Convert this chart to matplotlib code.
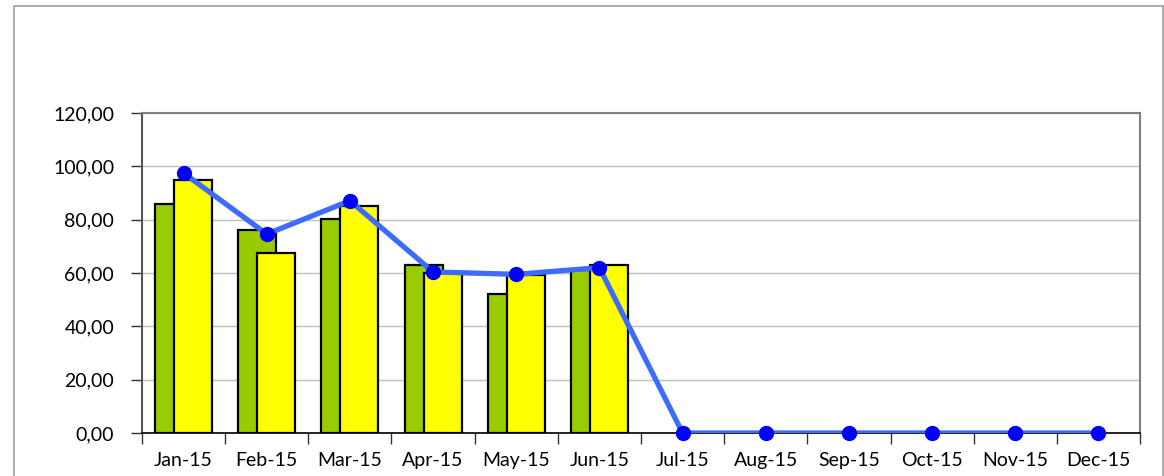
import numpy as np
import matplotlib.pyplot as plt
from matplotlib.patches import Rectangle
from matplotlib.ticker import FuncFormatter, MultipleLocator

months = ["Jan-15", "Feb-15", "Mar-15", "Apr-15", "May-15", "Jun-15",
          "Jul-15", "Aug-15", "Sep-15", "Oct-15", "Nov-15", "Dec-15"]
green_vals = [86.0, 76.0, 80.3, 63.0, 52.0, 61.0,
              np.nan, np.nan, np.nan, np.nan, np.nan, np.nan]
yellow_vals = [95.0, 67.5, 85.2, 60.0, 59.3, 63.0,
               np.nan, np.nan, np.nan, np.nan, np.nan, np.nan]
line_vals = [97.5, 74.6, 87.1, 60.4, 59.5, 62.0, 0, 0, 0, 0, 0, 0]

plt.rcParams["font.family"] = ["Lato", "DejaVu Sans"]

fig = plt.figure(figsize=(11.64, 4.76), dpi=100)
# outer chart frame
fig.patches.append(Rectangle((14 / 1164, -0.05), (1163 - 14) / 1164, 1.05 - 6 / 476,
                             transform=fig.transFigure, fill=False,
                             edgecolor="#a0a0a0", linewidth=1.2))

ax = fig.add_axes([142 / 1164, 43 / 476, (1140 - 142) / 1164, 320 / 476])

x = np.arange(len(months))
w = 0.457
off = 0.114
ax.bar(x - off, green_vals, width=w, color="#99cc00", edgecolor="black",
       linewidth=1.6, zorder=2)
ax.bar(x + off, yellow_vals, width=w, color="#ffff00", edgecolor="black",
       linewidth=1.6, zorder=3)
ax.plot(x, line_vals, color="#3d6bff", linewidth=3.8, zorder=4)
ax.plot(x, line_vals, linestyle="none", marker="o", markersize=10,
        color="#0000ff", zorder=5, clip_on=False)

ax.set_xlim(-0.5, len(months) - 0.5)
ax.set_ylim(0, 120)
ax.yaxis.set_major_locator(MultipleLocator(20))
ax.yaxis.set_major_formatter(FuncFormatter(lambda v, p: f"{v:.2f}".replace(".", ",")))
ax.grid(axis="y", color="#c0c0c0", linewidth=1.0, zorder=0)
ax.set_axisbelow(True)

ax.set_xticks(x)
ax.set_xticklabels(months)
ax.set_xticks(np.arange(-0.5, len(months)), minor=True)
ax.tick_params(axis="x", which="major", length=0, pad=14, labelsize=14,
               labelcolor="#000000")
ax.tick_params(axis="x", which="minor", length=8, width=1, direction="out",
               color="#333333")
ax.tick_params(axis="y", length=8, width=1, direction="out", pad=12,
               labelsize=14, labelcolor="#000000", color="#333333")

for side in ["top", "right"]:
    ax.spines[side].set_color("#808080")
    ax.spines[side].set_linewidth(1.5)
ax.spines["left"].set_color("#555555")
ax.spines["left"].set_linewidth(1.5)
ax.spines["bottom"].set_color("black")
ax.spines["bottom"].set_linewidth(1.2)

fig.savefig("out.png", dpi=100)
